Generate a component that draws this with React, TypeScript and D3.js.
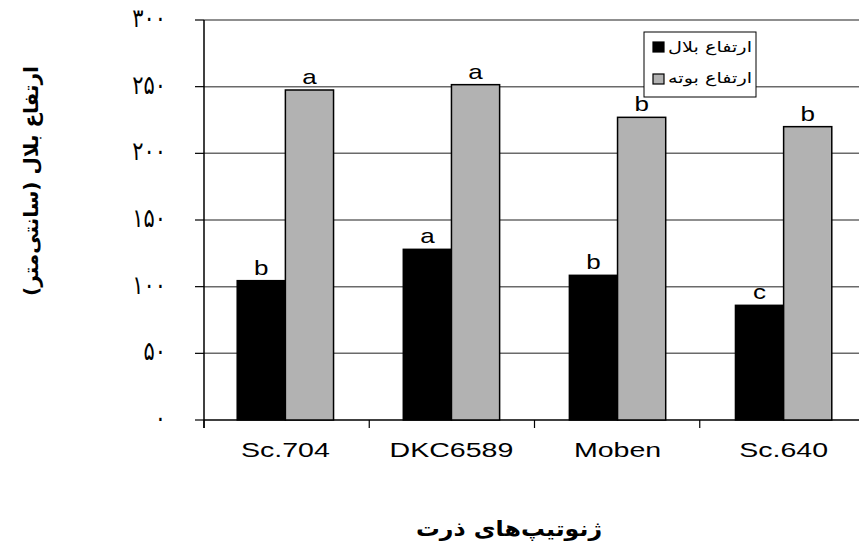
import React from "react";
import * as d3 from "d3";

const categories = ["Sc.704", "DKC6589", "Moben", "Sc.640"];
const series = ["ارتفاع بلال", "ارتفاع بوته"];
const earHeight = [104.5, 128, 108.5, 86];
const plantHeight = [247.5, 251.5, 227, 220];
const earLetters = ["b", "a", "b", "c"];
const plantLetters = ["a", "a", "b", "b"];
const yTicks = [0, 50, 100, 150, 200, 250, 300];
const yTickLabels = ["۰", "۵۰", "۱۰۰", "۱۵۰", "۲۰۰", "۲۵۰", "۳۰۰"];
const colors = ["#000000", "#b2b2b2"];

const SX = 1.36;

function SText(props: { x: number; y: number; sx?: number; sy?: number; anchor?: string; font: string; size: number; weight?: string; children: React.ReactNode }) {
  const { x, y, sx = SX, sy = 1, anchor = "middle", font, size, weight = "normal", children } = props;
  return (
    <text transform={`translate(${x},${y}) scale(${sx},${sy})`} textAnchor={anchor} fontFamily={font} fontSize={size} fontWeight={weight} fill="#000">
      {children}
    </text>
  );
}

export default function App() {
  const W = 859, H = 548;
  const left = 204, right = 865, top = 20, bottom = 420;
  const x = d3.scaleBand().domain(categories).range([left, right]).paddingInner(0.42).paddingOuter(0.2);
  const y = d3.scaleLinear().domain([0, 300]).range([bottom, top]);
  const inner = d3.scaleBand().domain(["0", "1"]).range([0, x.bandwidth()]);
  const arabicFont = "'DejaVu Sans', sans-serif";
  const latinFont = "'Liberation Sans', Arial, sans-serif";
  const step = (right - left) / categories.length;
  const values = [earHeight, plantHeight];
  const letters = [earLetters, plantLetters];

  return (
    <svg width={W} height={H} style={{ position: "absolute", left: 0, top: 0, background: "#fff" }}>
      {yTicks.map((t) => (
        <line key={t} x1={left} x2={W} y1={y(t)} y2={y(t)} stroke={t === 0 ? "#000" : "#6a6a6a"} strokeWidth={1.5} />
      ))}
      <line x1={left} x2={left} y1={top} y2={bottom + 8} stroke="#000" strokeWidth={1.5} />
      {yTicks.map((t, i) => (
        <g key={"yt" + t}>
          <line x1={left - 9} x2={left} y1={y(t)} y2={y(t)} stroke="#000" strokeWidth={1.2} />
          <SText x={166} y={y(t) + 7} sx={1.0} sy={1.25} anchor="end" font={arabicFont} size={21}>
            {yTickLabels[i]}
          </SText>
        </g>
      ))}
      {categories.map((c, i) => (
        <line key={"xt" + i} x1={left + step * i} x2={left + step * i} y1={bottom} y2={bottom + 8} stroke="#000" strokeWidth={1.2} />
      ))}
      {categories.map((c, i) => (
        <g key={c}>
          {values.map((vals, s) => {
            const bx = (x(c) as number) + (inner(String(s)) as number);
            const bw = inner.bandwidth();
            return (
              <g key={s}>
                <rect x={bx} y={y(vals[i])} width={bw} height={bottom - y(vals[i])} fill={colors[s]} stroke="#000" strokeWidth={1.5} />
                <SText x={bx + bw / 2} y={y(vals[i]) - 6} sx={1.3} font={latinFont} size={20}>
                  {letters[s][i]}
                </SText>
              </g>
            );
          })}
          <SText x={(x(c) as number) + x.bandwidth() / 2} y={457} font={latinFont} size={21}>
            {c}
          </SText>
        </g>
      ))}
      <rect x={644} y={32} width={112} height={65} fill="#fff" stroke="#000" strokeWidth={1} />
      {series.map((s, i) => (
        <g key={s}>
          <rect x={653} y={42 + i * 32} width={11} height={10} fill={colors[i]} stroke="#000" strokeWidth={1.2} />
          <text x={752} y={52 + i * 31} textAnchor="end" fontFamily={arabicFont} fontSize={15} fill="#000" textLength={84} lengthAdjust="spacingAndGlyphs">
            {s}
          </text>
        </g>
      ))}
      <text transform="translate(38,181) rotate(-90)" textAnchor="middle" fontFamily={arabicFont} fontWeight="bold" fontSize={20} fill="#000">
        ارتفاع بلال (سانتی‌متر)
      </text>
      <SText x={509} y={536} sx={1.13} font={arabicFont} size={21} weight="bold">
        ژنوتیپ‌های ذرت
      </SText>
    </svg>
  );
}
